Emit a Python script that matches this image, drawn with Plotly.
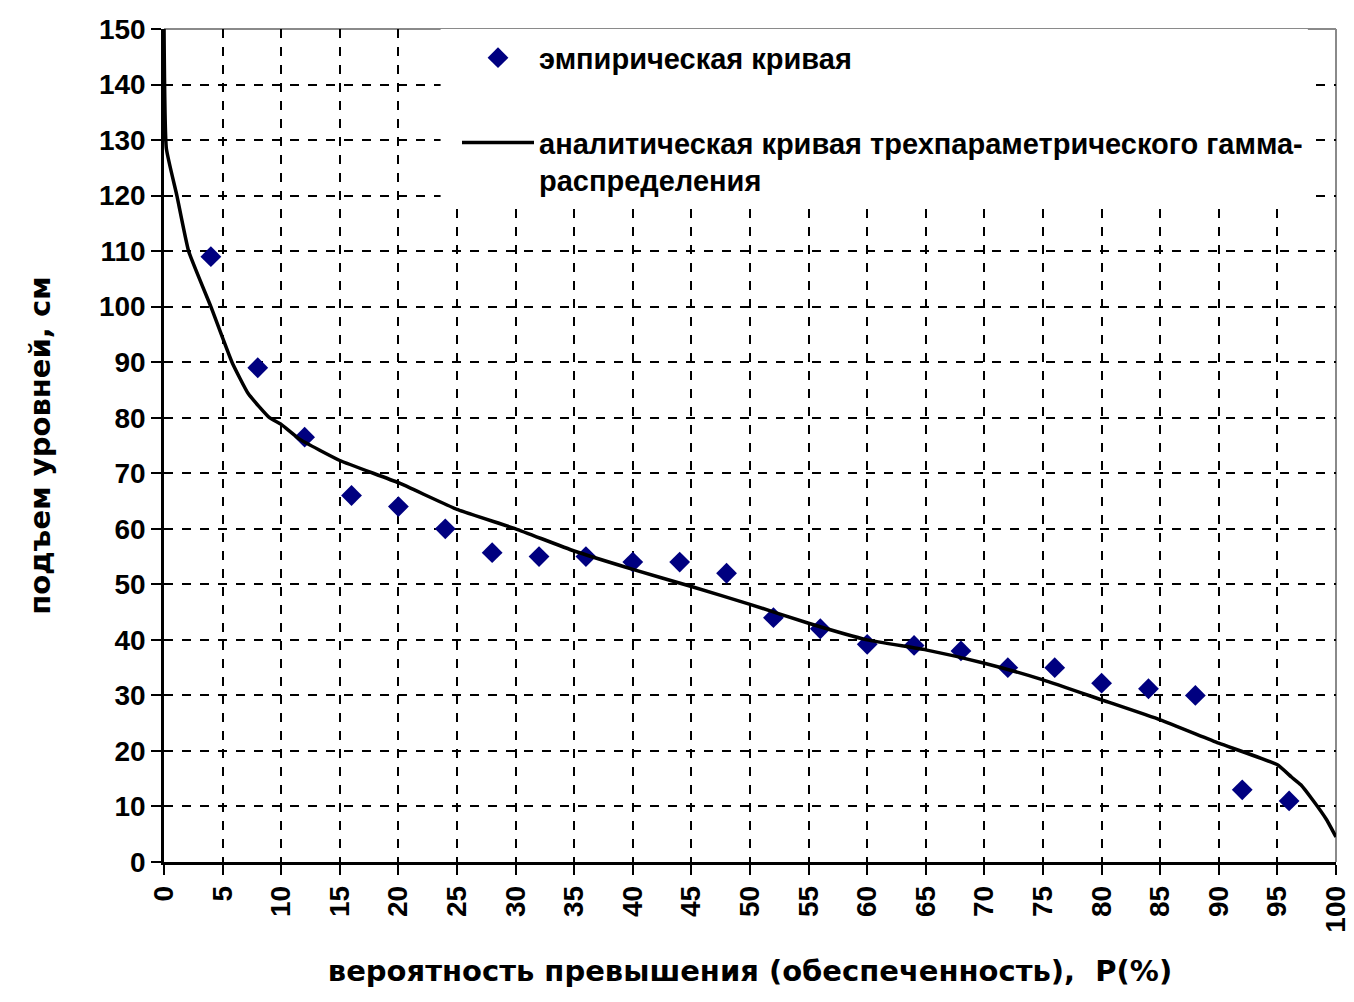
import plotly.graph_objects as go

# Empirical curve (probability of exceedance, %) and level rise (cm)
emp_p = [4, 8, 12, 16, 20, 24, 28, 32, 36, 40, 44, 48,
         52, 56, 60, 64, 68, 72, 76, 80, 84, 88, 92, 96]
emp_h = [109, 89, 76.5, 66, 64, 60, 55.7, 55, 55, 54, 54, 52,
         44, 42, 39.2, 39, 38, 35, 35, 32.2, 31.2, 30, 13, 11]

# Analytical curve of three-parameter gamma distribution
ana_p = [0, 0.2, 1.1, 2.1, 4.0, 5.8, 7.2, 9, 10, 11.6, 15, 20, 25, 30, 35,
         40, 45, 50, 55, 60, 65, 70, 75, 80, 85, 90, 95, 96.2, 97, 98, 99.2, 100]
ana_h = [151, 128.5, 120, 110, 100, 90, 84.3, 80, 78.8, 76.1, 72.3, 68.3,
         63.5, 60, 56, 52.7, 49.6, 46.4, 43, 40, 38.2, 35.8, 32.8, 29.2,
         25.6, 21.4, 17.5, 15.3, 13.9, 11.2, 7.6, 4.5]

x_ticks = list(range(0, 101, 5))
y_ticks = list(range(0, 151, 10))

name_emp = "эмпирическая кривая"
name_ana = "аналитическая кривая трехпараметрического гамма-<br>распределения"
x_title = "вероятность превышения (обеспеченность),  P(%)"
y_title = "подъем уровней, см"

FONT = "Liberation Sans, Arial, sans-serif"
TFONT = "DejaVu Sans, Liberation Sans, sans-serif"

fig = go.Figure()
fig.add_trace(go.Scatter(
    x=emp_p, y=emp_h, mode="markers", name=name_emp,
    marker=dict(symbol="diamond", size=16, color="#000080"),
    legendgroup="a",
))
fig.add_trace(go.Scatter(
    x=ana_p, y=ana_h, mode="lines", name=name_ana,
    line=dict(color="black", width=3.5, shape="spline", smoothing=0.4),
    legendgroup="b",
))

# white area behind legend (covers the grid)
fig.add_shape(type="rect", xref="x", yref="y", x0=23.6, x1=97.6, y0=118, y1=150,
              fillcolor="white", line=dict(width=0), layer="between")
# gray top and right frame
fig.add_shape(type="line", xref="paper", yref="paper", x0=0, x1=1, y0=1, y1=1,
              line=dict(color="#8a8a8a", width=2), layer="between")
fig.add_shape(type="line", xref="paper", yref="paper", x0=1, x1=1, y0=0, y1=1,
              line=dict(color="#8a8a8a", width=2), layer="between")

fig.update_layout(
    width=1354, height=1002,
    margin=dict(l=164, r=18, t=29, b=140, autoexpand=False),
    paper_bgcolor="white", plot_bgcolor="white",
    font=dict(family=FONT, size=28, color="black", weight="bold"),
    showlegend=True,
    legend=dict(
        x=0.25, y=0.996, xanchor="left", yanchor="top",
        bgcolor="rgba(0,0,0,0)", borderwidth=0,
        font=dict(family=FONT, size=29, color="black", weight="bold"),
        traceorder="grouped", tracegroupgap=44, valign="top",
        itemwidth=72,
    ),
    xaxis=dict(
        range=[0, 100], tickmode="array", tickvals=x_ticks,
        ticktext=[str(v) for v in x_ticks], tickangle=-90,
        showgrid=True, gridcolor="black", gridwidth=1.5, griddash="dash",
        showline=True, linecolor="black", linewidth=2.5,
        ticks="outside", ticklen=10, tickwidth=2, tickcolor="black",
        zeroline=False, automargin=False,
        title=dict(text=x_title, standoff=30,
                   font=dict(family=TFONT, size=29, weight="bold")),
    ),
    yaxis=dict(
        range=[0, 150], tickmode="array", tickvals=y_ticks,
        ticktext=[str(v) for v in y_ticks],
        showgrid=True, gridcolor="black", gridwidth=1.5, griddash="dash",
        showline=True, linecolor="black", linewidth=2.5,
        ticks="outside", ticklen=10, tickwidth=2, tickcolor="black",
        zeroline=False, automargin=False,
        title=dict(text=y_title, standoff=40,
                   font=dict(family=TFONT, size=29, weight="bold")),
    ),
)

fig.write_html("out.html")
